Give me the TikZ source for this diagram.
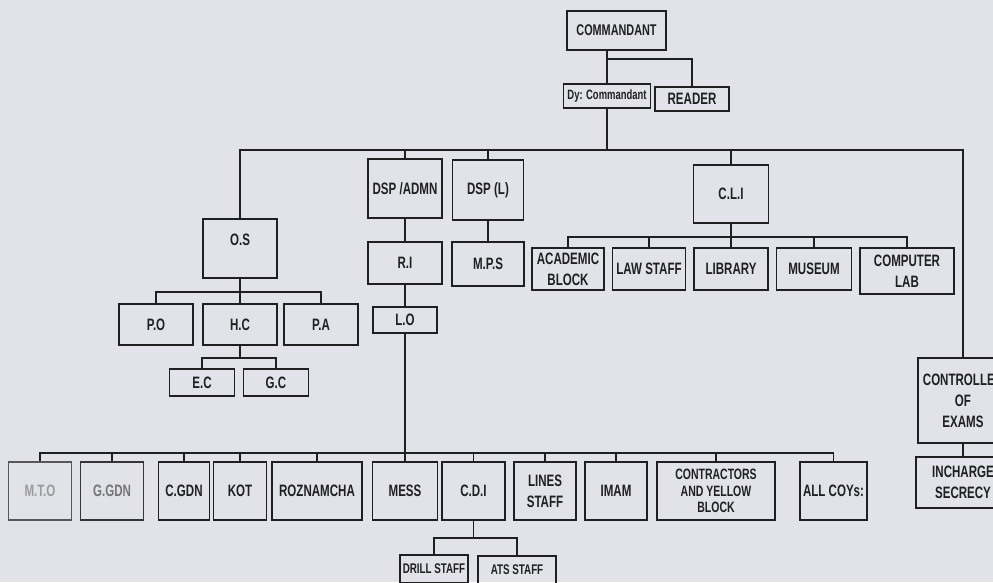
\documentclass[tikz,border=0pt]{standalone}
\usepackage{fontspec}
\setmainfont{Liberation Sans}[FakeStretch=0.7]
\definecolor{paper}{RGB}{226,227,232}
\definecolor{ink}{RGB}{32,32,34}
\tikzset{
  box/.style={draw=ink, line width=1.8pt, text=ink, align=center, inner sep=0pt,
    font=\fontsize{16.5}{21}\selectfont\bfseries},
  faint/.style={draw=ink!75, text=ink!45},
  link/.style={draw=ink, line width=1.8pt}
}
\begin{document}
\begin{tikzpicture}[x=1pt,y=-1pt]
                \useasboundingbox (0,0) rectangle (993,582);
                \fill[paper] (0,0) rectangle (993,582);
                \node[box, minimum width=99, minimum height=39, font=\fontsize{15.5}{20}\selectfont\bfseries] (cmd) at (616.5,30.5) {COMMANDANT};
                \node[box, minimum width=87, minimum height=24, font=\fontsize{13.5}{15}\selectfont\bfseries] (dyc) at (607,96) {Dy: Commandant};
                \node[box, minimum width=74, minimum height=24] (reader) at (692,99) {READER};
                \node[box, minimum width=74, minimum height=59, text depth=18pt] (os) at (240,248.5) {O.S};
                \node[box, minimum width=74, minimum height=59] (dspa) at (405,188.5) {DSP /ADMN};
                \node[box, minimum width=71, minimum height=60] (dspl) at (488,190) {DSP (L)};
                \node[box, minimum width=75, minimum height=58] (cli) at (731,194) {C.L.I};
                \node[box, minimum width=90, minimum height=85] (coe) at (963,400.5) {CONTROLLER\\OF\\EXAMS};
                \node[box, minimum width=94, minimum height=51] (inch) at (963,482.5) {INCHARGE\\SECRECY};
                \node[box, minimum width=74, minimum height=42] (ri) at (405,263) {R.I};
                \node[box, minimum width=72, minimum height=44] (mps) at (488,264) {M.P.S};
                \node[box, minimum width=64, minimum height=26] (lo) at (405,320) {L.O};
                \node[box, minimum width=72, minimum height=42] (acad) at (568,269) {ACADEMIC\\BLOCK};
                \node[box, minimum width=73, minimum height=42] (law) at (649,269) {LAW STAFF};
                \node[box, minimum width=74, minimum height=42] (lib) at (731,269) {LIBRARY};
                \node[box, minimum width=75, minimum height=42] (mus) at (814,269) {MUSEUM};
                \node[box, minimum width=94, minimum height=46] (comp) at (907,271) {COMPUTER\\LAB};
                \node[box, minimum width=74, minimum height=41] (po) at (156,324.5) {P.O};
                \node[box, minimum width=74, minimum height=41] (hc) at (240,324.5) {H.C};
                \node[box, minimum width=74, minimum height=41] (pa) at (321,324.5) {P.A};
                \node[box, minimum width=65, minimum height=27] (ec) at (202,382.5) {E.C};
                \node[box, minimum width=65, minimum height=27] (gc) at (276,382.5) {G.C};
                \node[box, faint, minimum width=63, minimum height=58] (mto) at (40,491) {M.T.O};
                \node[box, faint, draw=ink!90, text=ink!62, minimum width=63, minimum height=58] (ggdn) at (112,491) {G.GDN};
                \node[box, minimum width=51, minimum height=58] (cgdn) at (184,491) {C.GDN};
                \node[box, minimum width=53, minimum height=58] (kot) at (240,491) {KOT};
                \node[box, minimum width=90, minimum height=58] (rozn) at (317,491) {ROZNAMCHA};
                \node[box, minimum width=65, minimum height=58] (mess) at (405,491) {MESS};
                \node[box, minimum width=63, minimum height=58] (cdi) at (473.5,491) {C.D.I};
                \node[box, minimum width=62, minimum height=58] (lines) at (545,491) {LINES\\STAFF};
                \node[box, minimum width=62, minimum height=58] (imam) at (616,491) {IMAM};
                \node[box, minimum width=118, minimum height=58, font=\fontsize{15}{16.5}\selectfont\bfseries] (contr) at (716,491) {CONTRACTORS\\AND YELLOW\\BLOCK};
                \node[box, minimum width=67, minimum height=58] (allcoy) at (833.5,491) {ALL COYs:};
                \node[box, minimum width=68, minimum height=28, font=\fontsize{14}{16}\selectfont\bfseries] (drill) at (434,569) {DRILL STAFF};
                \node[box, minimum width=78, minimum height=28, font=\fontsize{14}{16}\selectfont\bfseries] (ats) at (517,570) {ATS STAFF};
                \coordinate (j0) at (607,59);
                \coordinate (b1) at (607,150);
                \coordinate (b2) at (240,292);
                \coordinate (b3) at (240,358);
                \coordinate (b4) at (731,237);
                \coordinate (b5) at (405,453);
                \coordinate (b6) at (473.5,538);
                \draw[link] (cmd.south -| j0)--(dyc.north);
                \draw[link] (j0) -| (reader.north);
                \draw[link] (dyc.south)--(b1);
                \foreach \n in {os,dspa,dspl,cli,coe} \draw[link] (b1) -| (\n.north);
                \draw[link] (dspa.south)--(ri.north);
                \draw[link] (dspl.south)--(mps.north);
                \draw[link] (ri.south)--(lo.north);
                \draw[link] (coe.south)--(inch.north);
                \draw[link] (os.south)--(b2);
                \foreach \n in {po,hc,pa} \draw[link] (b2) -| (\n.north);
                \draw[link] (hc.south)--(b3);
                \foreach \n in {ec,gc} \draw[link] (b3) -| (\n.north);
                \draw[link] (cli.south)--(b4);
                \foreach \n in {acad,law,lib,mus,comp} \draw[link] (b4) -| (\n.north);
                \draw[link] (lo.south)--(b5);
                \foreach \n in {mto,ggdn,cgdn,kot,rozn,mess,cdi,lines,imam,contr,allcoy} \draw[link] (b5) -| (\n.north);
                \draw[link] (cdi.south)--(b6);
                \foreach \n in {drill,ats} \draw[link] (b6) -| (\n.north);
            \end{tikzpicture}
\end{document}
